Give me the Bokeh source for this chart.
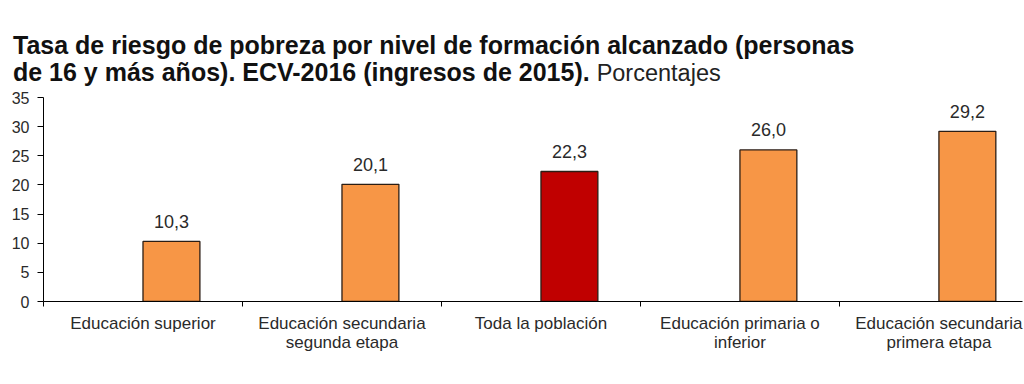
from bokeh.plotting import figure
from bokeh.models import Range1d, FixedTicker, ColumnDataSource, Div
from bokeh.layouts import column
from bokeh.core.properties import value
from bokeh.embed import file_html
from bokeh.resources import INLINE

categories = ["Educación superior", "Educación secundaria\nsegunda etapa", "Toda la población",
              "Educación primaria o\ninferior", "Educación secundaria\nprimera etapa"]
values = [10.3, 20.1, 22.3, 26.0, 29.2]
value_labels = ["10,3", "20,1", "22,3", "26,0", "29,2"]
highlight = "Toda la población"
y_ticks = [0, 5, 10, 15, 20, 25, 30, 35]
title_bold_1 = "Tasa de riesgo de pobreza por nivel de formación alcanzado (personas"
title_bold_2 = "de 16 y más años). ECV-2016 (ingresos de 2015)."
title_normal = "Porcentajes"

ORANGE = "#F79646"
RED = "#C00000"
FONT = "Liberation Sans"

n = len(categories)
centers = [i + 0.5 for i in range(n)]
bar_w = 0.286
bar_x = [c + bar_w / 2 for c in centers]
colors = [RED if c == highlight else ORANGE for c in categories]

src = ColumnDataSource(dict(x=bar_x, top=values, color=colors, lab=value_labels))

DIV_H = 88
p = figure(width=1024, height=384 - DIV_H, x_range=Range1d(0, 4.92), y_range=Range1d(0, 35),
           output_backend="svg", toolbar_location=None,
           min_border_left=43, min_border_right=2, min_border_top=97 - DIV_H, min_border_bottom=83)
p.outline_line_color = None
p.grid.visible = False
p.background_fill_color = "white"

p.vbar(x="x", top="top", bottom=0, width=bar_w, fill_color="color",
       line_color="#2b1d14", line_width=1.3, source=src)
p.text(x="x", y="top", text="lab", source=src, text_align="center", text_baseline="alphabetic",
       y_offset=-20, text_font=value(FONT), text_font_size="18px", text_color="#2a2a2a")

# x axis
xa = p.xaxis[0]
xa.ticker = FixedTicker(ticks=centers, minor_ticks=list(range(n)))
xa.major_label_overrides = {c: lab for c, lab in zip(centers, categories)}
xa.major_tick_out = 0
xa.major_tick_in = 0
xa.minor_tick_out = 5
xa.minor_tick_in = 0
xa.minor_tick_line_color = "black"
xa.axis_line_color = "black"
xa.major_label_text_font = FONT
xa.major_label_text_font_size = "17px"
xa.major_label_text_color = "#2a2a2a"
xa.major_label_text_line_height = 1.0
xa.major_label_standoff = 7

ya = p.yaxis[0]
ya.ticker = FixedTicker(ticks=y_ticks)
ya.major_tick_out = 6
ya.major_tick_in = 0
ya.minor_tick_line_color = None
ya.axis_line_color = "black"
ya.major_label_text_font = FONT
ya.major_label_text_font_size = "16px"
ya.major_label_text_color = "#2a2a2a"
ya.major_label_standoff = 8

title_html = (
    f'<div style="font-family:\'{FONT}\';font-size:25px;line-height:27px;color:#111;'
    f'white-space:nowrap;padding:32px 0 0 13px;margin:0;">'
    f'<span style="font-weight:bold">{title_bold_1}</span><br>'
    f'<span style="font-weight:bold">{title_bold_2}</span> '
    f'<span style="font-weight:normal;font-size:23.5px;color:#222">{title_normal}</span></div>'
)
div = Div(text=title_html, width=1024, height=DIV_H, styles={"margin": "0", "padding": "0"})

layout = column(div, p, spacing=0)
open("out.html", "w").write(file_html(layout, INLINE))
